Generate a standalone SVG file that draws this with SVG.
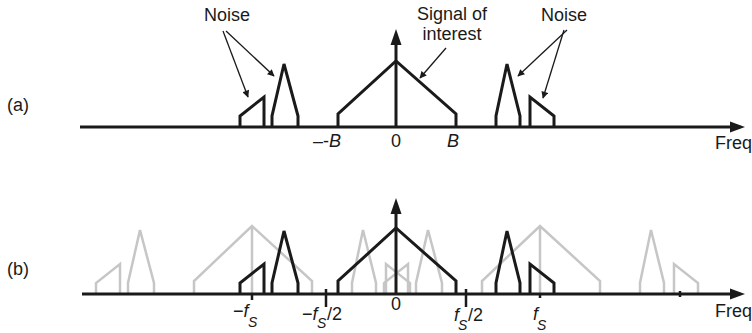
<svg xmlns="http://www.w3.org/2000/svg" width="752" height="333" viewBox="0 0 752 333">
<style>
text{font-family:"Liberation Sans",Arial,sans-serif;font-size:18px;fill:#1a1a1a}
.it{font-style:italic}
.sub{font-size:14px;font-style:italic}
.blk{fill:none;stroke:#1a1a1a;stroke-width:3;stroke-linejoin:miter}
.gry{fill:none;stroke:#c6c6c6;stroke-width:2.5}
.ax{stroke:#1a1a1a;stroke-width:3;fill:none}
.ptr{stroke:#1a1a1a;stroke-width:1.3;fill:none;marker-end:url(#ah)}
.tick{stroke:#1a1a1a;stroke-width:2.5}
</style>
<defs>
<marker id="ah" viewBox="0 0 10 10" refX="9" refY="5" markerWidth="9" markerHeight="7" markerUnits="userSpaceOnUse" orient="auto">
<path d="M0,0 L10,5 L0,10 z" fill="#1a1a1a"/>
</marker>
</defs>

<!-- Panel (a) -->
<g id="panel-a">
<text x="7" y="111">(a)</text>
<g id="axis-a">
<line class="ax" x1="80" y1="127" x2="732" y2="127"/>
<path d="M745,127 L730,121.5 L730,132.5 z" fill="#1a1a1a"/>
<line class="ax" x1="396" y1="127" x2="396" y2="44"/>
<path d="M396,29 L390.5,45 L401.5,45 z" fill="#1a1a1a"/>
</g>
<g id="signal-a"><path class="blk" d="M338,127 V114 L396,61 L456,114 V127"/></g>
<g id="noise-a-left-small"><path class="blk" d="M240,127 V116 L264,97 V127"/></g>
<g id="noise-a-left-spike"><path class="blk" d="M272,127 V116 L284,64 L298,116 V127"/></g>
<g id="noise-a-right-spike"><path class="blk" d="M496,127 V116 L507,64 L520,116 V127"/></g>
<g id="noise-a-right-small"><path class="blk" d="M530,127 V97 L554,116 V127"/></g>
<g id="labels-a">
<text x="227" y="21" text-anchor="middle">Noise</text>
<text x="564" y="21" text-anchor="middle">Noise</text>
<text x="452" y="20" text-anchor="middle">Signal of</text>
<text x="452" y="40" text-anchor="middle">interest</text>
<text x="313" y="147">–-<tspan class="it">B</tspan></text>
<text x="396" y="147" text-anchor="middle">0</text>
<text x="453" y="147" text-anchor="middle" class="it">B</text>
<text x="715" y="149">Freq</text>
</g>
</g>

<g id="connectors">
<line class="ptr" x1="223" y1="31" x2="248" y2="97"/>
<line class="ptr" x1="226" y1="31" x2="274" y2="76"/>
<line class="ptr" x1="567" y1="30" x2="518" y2="76"/>
<line class="ptr" x1="564" y1="30" x2="543" y2="98"/>
<line class="ptr" x1="446" y1="48" x2="420" y2="78"/>
</g>

<!-- Panel (b) -->
<g id="panel-b">
<text x="7" y="275">(b)</text>
<g id="aliases-b">
<path class="gry" d="M194,294 V281 L252,226 L312,281 V294 M252,226 V294"/>
<path class="gry" d="M482,294 V281 L540,226 L600,281 V294 M540,226 V294"/>
<path class="gry" d="M96,294 V283 L120,264 V294"/>
<path class="gry" d="M128,294 V283 L140,230 L154,283 V294"/>
<path class="gry" d="M352,294 V283 L363,230 L376,283 V294"/>
<path class="gry" d="M386,294 V264 L410,283 V294"/>
<path class="gry" d="M384,294 V283 L408,264 V294"/>
<path class="gry" d="M416,294 V283 L428,230 L442,283 V294"/>
<path class="gry" d="M640,294 V283 L651,230 L664,283 V294"/>
<path class="gry" d="M674,294 V264 L698,283 V294"/>
</g>
<g id="axis-b">
<line class="ax" x1="82" y1="294" x2="732" y2="294"/>
<path d="M745,294 L730,288.5 L730,299.5 z" fill="#1a1a1a"/>
<line class="ax" x1="396" y1="294" x2="396" y2="213"/>
<path d="M396,198 L390.5,214 L401.5,214 z" fill="#1a1a1a"/>
<line class="tick" x1="252" y1="294" x2="252" y2="300"/>
<line class="tick" x1="326" y1="289" x2="326" y2="307"/>
<line class="tick" x1="466" y1="289" x2="466" y2="307"/>
<line class="tick" x1="540" y1="294" x2="540" y2="298"/>
<line class="tick" x1="680" y1="291" x2="680" y2="297"/>
</g>
<g id="signal-b"><path class="blk" d="M338,294 V281 L396,228 L456,281 V294"/></g>
<g id="noise-b-left-small"><path class="blk" d="M240,294 V283 L264,264 V294"/></g>
<g id="noise-b-left-spike"><path class="blk" d="M272,294 V283 L284,231 L298,283 V294"/></g>
<g id="noise-b-right-spike"><path class="blk" d="M496,294 V283 L507,231 L520,283 V294"/></g>
<g id="noise-b-right-small"><path class="blk" d="M530,294 V264 L554,283 V294"/></g>
<g id="labels-b">
<text x="233" y="317">−<tspan class="it">f</tspan></text>
<text x="248" y="327" class="sub">S</text>
<text x="302" y="320">−<tspan class="it">f</tspan></text>
<text x="317" y="328" class="sub">S</text>
<text x="327" y="320">/2</text>
<text x="396" y="310" text-anchor="middle">0</text>
<text x="454" y="321" class="it">f</text>
<text x="458" y="330" class="sub">S</text>
<text x="468" y="321">/2</text>
<text x="533" y="320" class="it">f</text>
<text x="537" y="330" class="sub">S</text>
<text x="715" y="317">Freq</text>
</g>
</g>
</svg>
